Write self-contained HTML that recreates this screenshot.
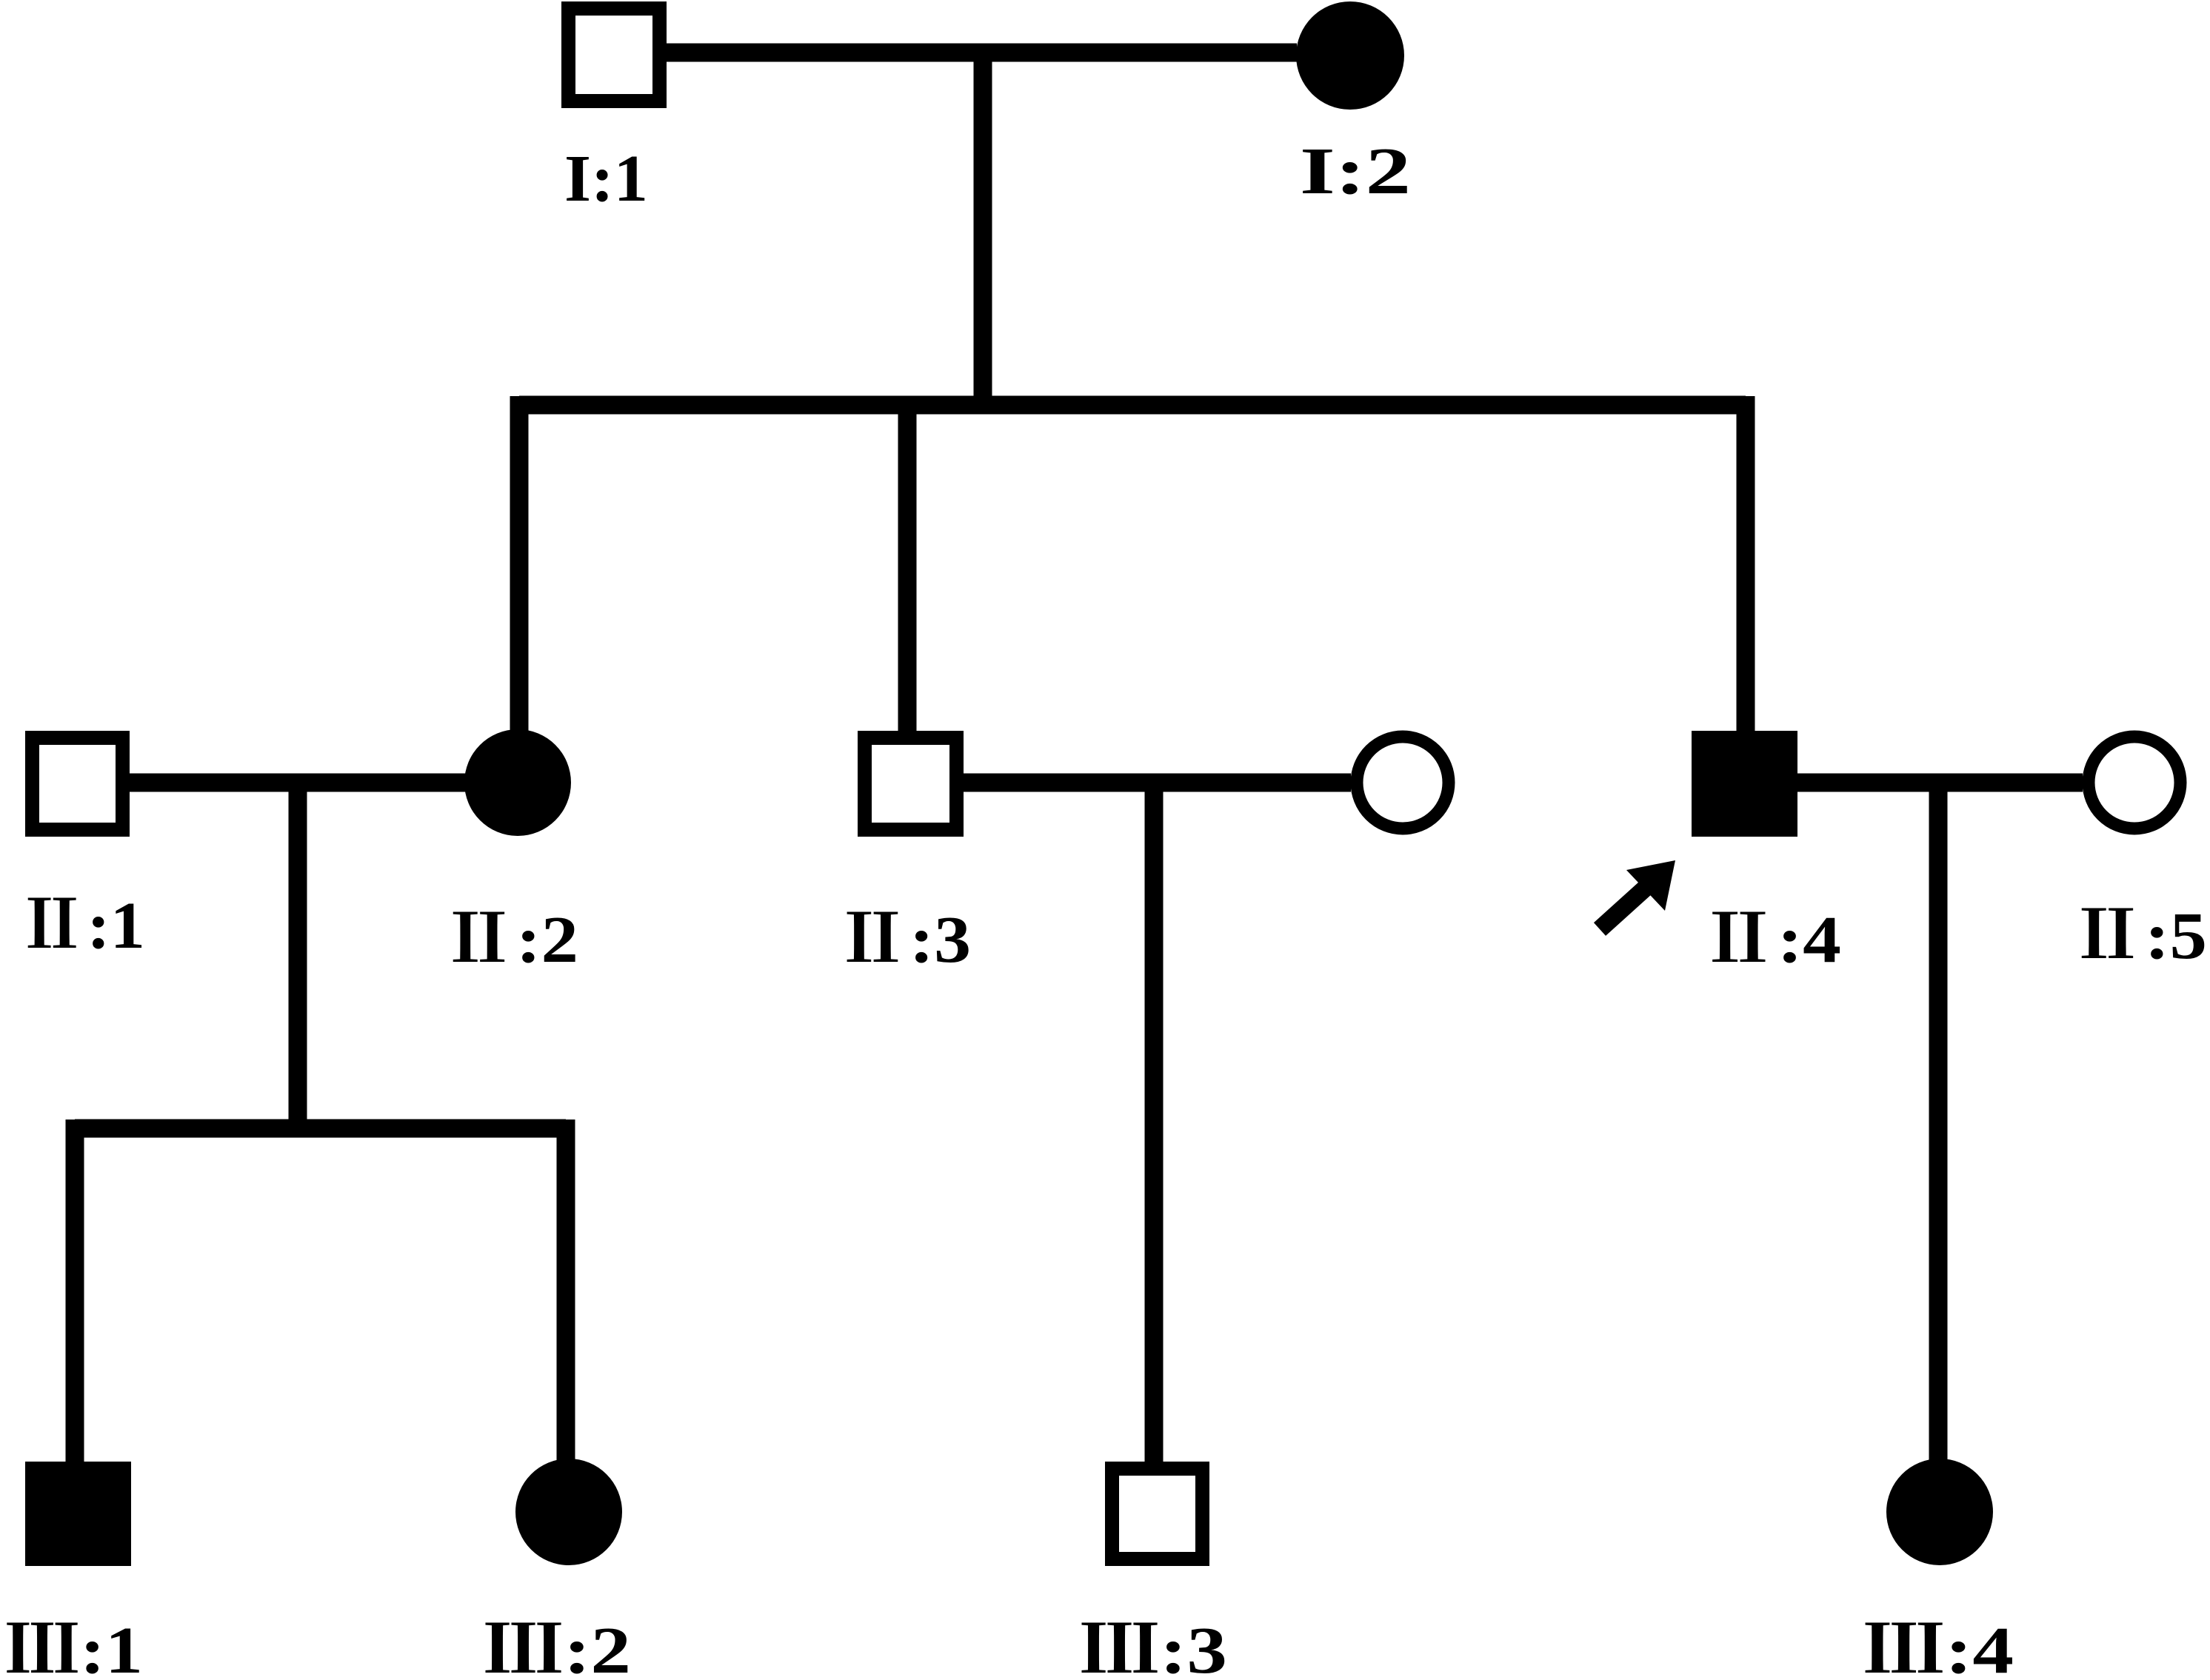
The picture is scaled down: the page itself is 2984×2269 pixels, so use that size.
<!DOCTYPE html>
<html><head><meta charset="utf-8"><style>html,body{margin:0;padding:0;background:#fff}svg{display:block}</style></head>
<body>
<svg width="2984" height="2269" viewBox="0 0 2984 2269" xmlns="http://www.w3.org/2000/svg">
<g stroke="#000" stroke-width="25" fill="none">
<line x1="900" y1="71" x2="1751" y2="71"/>
<line x1="1327" y1="71" x2="1327" y2="547"/>
<line x1="701" y1="547" x2="2357" y2="547"/>
<line x1="701" y1="535" x2="701" y2="990"/>
<line x1="1225" y1="547" x2="1225" y2="990"/>
<line x1="2357" y1="535" x2="2357" y2="990"/>
<line x1="175" y1="1057" x2="630" y2="1057"/>
<line x1="402" y1="1057" x2="402" y2="1524"/>
<line x1="101" y1="1524" x2="764" y2="1524"/>
<line x1="101" y1="1512" x2="101" y2="1980"/>
<line x1="764" y1="1512" x2="764" y2="1975"/>
<line x1="1301" y1="1057" x2="1824" y2="1057"/>
<line x1="1558" y1="1057" x2="1558" y2="1980"/>
<line x1="2427" y1="1057" x2="2812" y2="1057"/>
<line x1="2617" y1="1057" x2="2617" y2="1975"/>
</g>
<g stroke="#000" stroke-width="19">
<rect x="767.5" y="11.5" width="123" height="125" fill="#fff"/>
<rect x="43.5" y="996.5" width="122" height="124" fill="#fff"/>
<rect x="1167.5" y="996.5" width="124" height="124" fill="#fff"/>
<rect x="1501.5" y="1983.5" width="122" height="122" fill="#fff"/>
<circle cx="1894" cy="1057" r="62" fill="#fff" stroke-width="17"/>
<circle cx="2882" cy="1057" r="62" fill="#fff" stroke-width="17"/>
</g>
<g fill="#000">
<ellipse cx="1823" cy="75" rx="73" ry="73"/>
<ellipse cx="699" cy="1057" rx="72" ry="72"/>
<ellipse cx="768" cy="2042" rx="72" ry="72"/>
<ellipse cx="2619" cy="2042" rx="72" ry="72"/>
<rect x="2284" y="987" width="143" height="143"/>
<rect x="34" y="1974" width="143" height="141"/>
<line x1="2160" y1="1255" x2="2222" y2="1199" stroke="#000" stroke-width="24"/>
<polygon points="2262,1162 2196,1175 2248,1230"/>
</g>
<g font-family="'Liberation Serif','Noto Serif CJK SC',serif" font-size="90" font-weight="bold" fill="#000">
<text x="762" y="271" textLength="113" lengthAdjust="spacingAndGlyphs">I:1</text>
<text x="1755" y="261" textLength="150" lengthAdjust="spacingAndGlyphs">I:2</text>
<text x="23" y="1280" textLength="173" lengthAdjust="spacingAndGlyphs">Ⅱ:1</text>
<text x="596" y="1299" textLength="185" lengthAdjust="spacingAndGlyphs">Ⅱ:2</text>
<text x="1128" y="1299" textLength="183" lengthAdjust="spacingAndGlyphs">Ⅱ:3</text>
<text x="2296" y="1299" textLength="190" lengthAdjust="spacingAndGlyphs">Ⅱ:4</text>
<text x="2795" y="1294" textLength="185" lengthAdjust="spacingAndGlyphs">Ⅱ:5</text>
<text x="6" y="2259" textLength="187" lengthAdjust="spacingAndGlyphs">Ⅲ:1</text>
<text x="652" y="2259" textLength="200" lengthAdjust="spacingAndGlyphs">Ⅲ:2</text>
<text x="1457" y="2259" textLength="200" lengthAdjust="spacingAndGlyphs">Ⅲ:3</text>
<text x="2515" y="2259" textLength="204" lengthAdjust="spacingAndGlyphs">Ⅲ:4</text>
</g>
</svg>
</body></html>
